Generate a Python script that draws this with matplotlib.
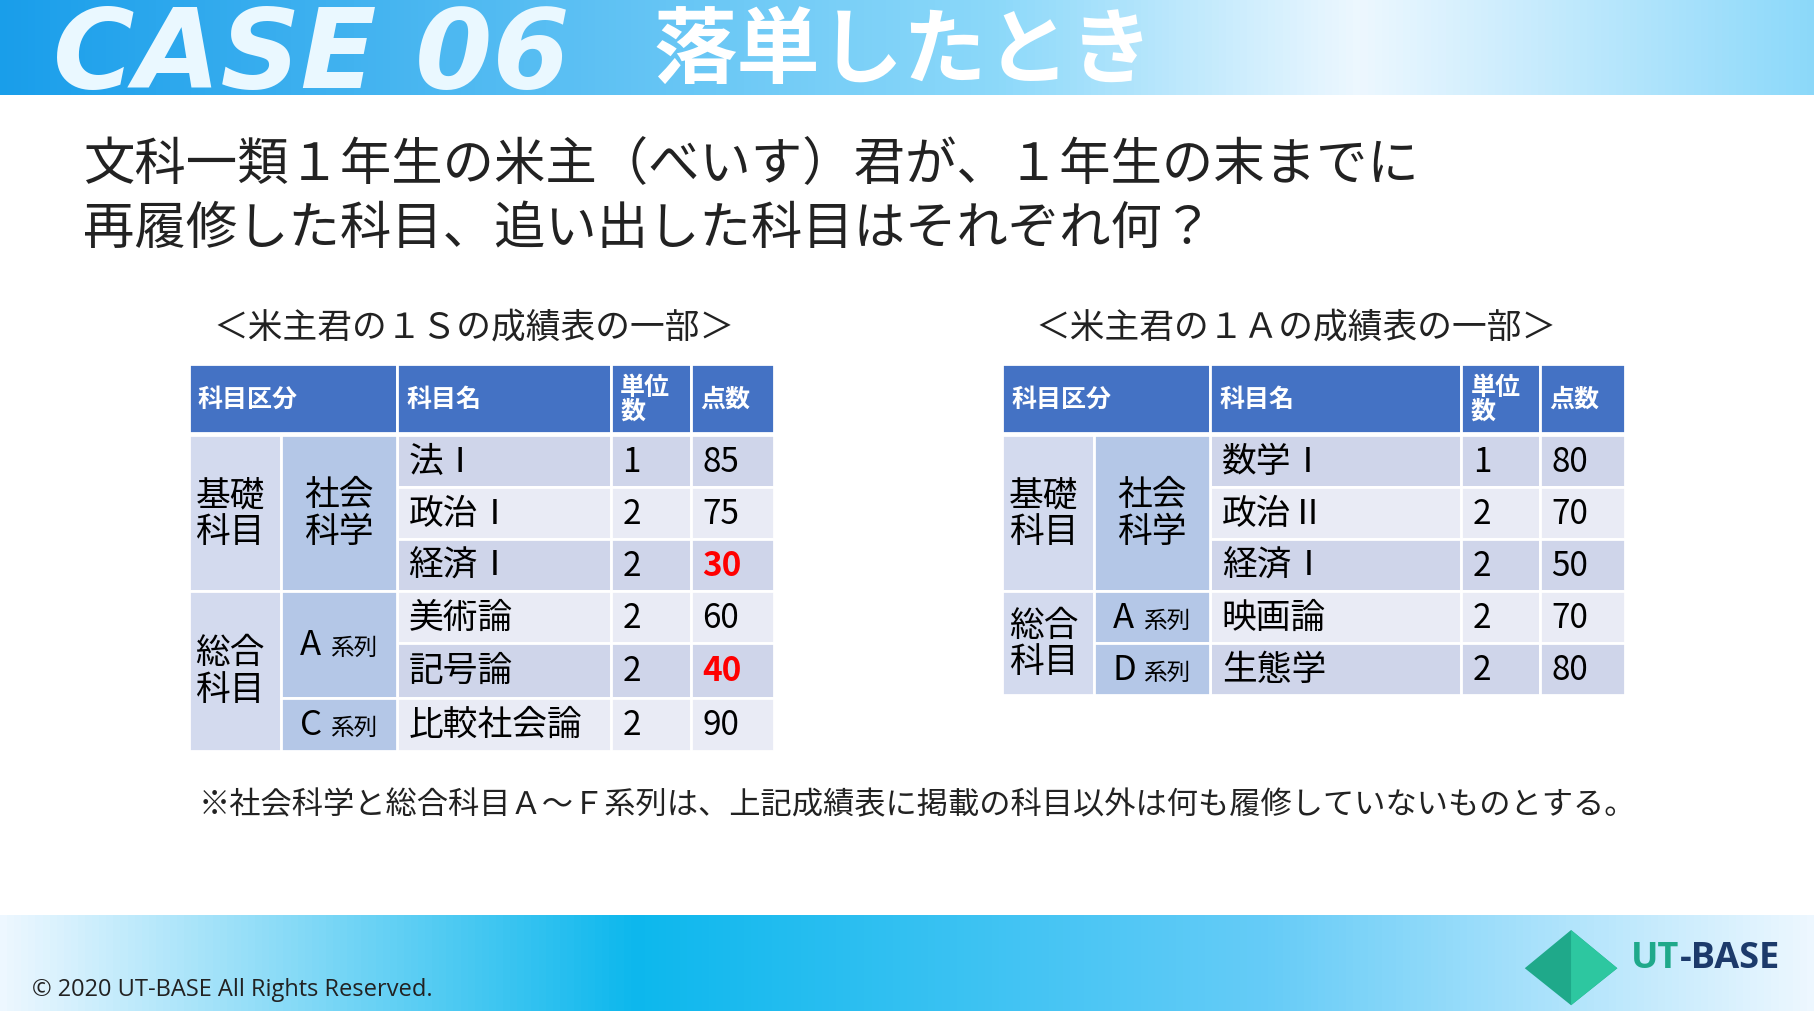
import numpy as np
import matplotlib
matplotlib.use('Agg')
import matplotlib.pyplot as plt
from matplotlib.patches import Rectangle, Polygon

plt.rcParams['font.family'] = ['Noto Sans CJK JP', 'DejaVu Sans']

W, H = 1568, 875

# ---- data ----
left_title = '＜米主君の１Ｓの成績表の一部＞'
right_title = '＜米主君の１Ａの成績表の一部＞'
headers = ['科目区分', '科目名', '単位\n数', '点数']

left_subjects = ['法Ⅰ', '政治Ⅰ', '経済Ⅰ', '美術論', '記号論', '比較社会論']
left_credits = [1, 2, 2, 2, 2, 2]
left_scores = [85, 75, 30, 60, 40, 90]
left_fail = [False, False, True, False, True, False]
left_groups = [('基礎\n科目', 0, 3), ('総合\n科目', 3, 6)]
left_sub = [('社会\n科学', 0, 3), ('A 系列', 3, 5), ('C 系列', 5, 6)]

right_subjects = ['数学Ⅰ', '政治Ⅱ', '経済Ⅰ', '映画論', '生態学']
right_credits = [1, 2, 2, 2, 2]
right_scores = [80, 70, 50, 70, 80]
right_groups = [('基礎\n科目', 0, 3), ('総合\n科目', 3, 5)]
right_sub = [('社会\n科学', 0, 3), ('A 系列', 3, 4), ('D 系列', 4, 5)]

fig = plt.figure(figsize=(18.14, 10.12), dpi=100)
ax = fig.add_axes([0, 0, 1, 1])
ax.set_xlim(0, W)
ax.set_ylim(H, 0)
ax.axis('off')

# header / footer band gradients
grad = np.linspace(0, 1, 256)
c0 = np.array([0.10, 0.62, 0.92]); c1 = np.array([0.55, 0.85, 0.98]); c2 = np.array([0.93, 0.97, 1.0])
def band(t, pts):
    out = np.zeros((len(t), 3))
    for i in range(3):
        out[:, i] = np.interp(t, [p[0] for p in pts], [p[1][i] for p in pts])
    return out[None, :, :]
ax.imshow(band(grad, [(0, c0), (0.55, c1), (0.75, c2), (1, c1)]), extent=[0, W, 83, 0], aspect='auto', zorder=0)
ax.imshow(band(grad, [(0, c2), (0.35, np.array([0.05, 0.72, 0.93])), (0.7, np.array([0.4, 0.8, 0.97])), (1, c2)]),
          extent=[0, W, H, 792], aspect='auto', zorder=0)
ax.set_xlim(0, W); ax.set_ylim(H, 0)

ax.text(46, 50, 'CASE 06', color='#EAF8FF', fontsize=80, fontweight='bold', fontstyle='italic',
        family='Liberation Sans Narrow', va='center', ha='left')
ax.text(565, 45, '落単したとき', color='white', fontsize=60, fontweight='bold', va='center', ha='left')

ax.text(72, 143, '文科一類１年生の米主（べいす）君が、１年生の末までに', fontsize=37, va='center', color='#222222')
ax.text(72, 198, '再履修した科目、追い出した科目はそれぞれ何？', fontsize=37, va='center', color='#222222')

ax.text(410, 284, left_title, fontsize=25, ha='center', va='center', color='#222222')
ax.text(1120, 284, right_title, fontsize=25, ha='center', va='center', color='#222222')

HEAD = '#4472C4'; ROW_A = '#CFD5EA'; ROW_B = '#E9EBF5'; G1 = '#D3DAEE'; G2 = '#B4C7E7'


def cell(x0, x1, y0, y1, color):
    ax.add_patch(Rectangle((x0, y0), x1 - x0, y1 - y0, facecolor=color, edgecolor='white', lw=2, zorder=1))


def draw_table(xs, row_edges, subjects, credits, scores, fails, groups, subs):
    y_h0, y_h1 = 316, 375
    spans = [(xs[0], xs[2]), (xs[2], xs[3]), (xs[3], xs[4]), (xs[4], xs[5])]
    for (a, b), h in zip(spans, headers):
        cell(a, b, y_h0, y_h1, HEAD)
        ax.text(a + 8, (y_h0 + y_h1) / 2, h, color='white', fontsize=18, fontweight='bold',
                va='center', ha='left', linespacing=1.0, zorder=3)
    for i, (s, c, p) in enumerate(zip(subjects, credits, scores)):
        y0, y1 = row_edges[i], row_edges[i + 1]
        col = ROW_A if i % 2 == 0 else ROW_B
        for a, b in [(xs[2], xs[3]), (xs[3], xs[4]), (xs[4], xs[5])]:
            cell(a, b, y0, y1, col)
        ym = (y0 + y1) / 2
        ax.text(xs[2] + 10, ym, s, fontsize=25, va='center', zorder=3)
        ax.text(xs[3] + 10, ym, str(c), fontsize=24, va='center', zorder=3)
        bad = fails[i]
        ax.text(xs[4] + 10, ym, str(p), fontsize=24, va='center', zorder=3,
                color='#FF0000' if bad else 'black', fontweight='bold' if bad else 'normal')
    for lbl, a, b in groups:
        cell(xs[0], xs[1], row_edges[a], row_edges[b], G1)
        ax.text(xs[0] + 6, (row_edges[a] + row_edges[b]) / 2, lbl, fontsize=25, va='center', zorder=3,
                linespacing=1.05)
    for lbl, a, b in subs:
        cell(xs[1], xs[2], row_edges[a], row_edges[b], G2)
        ym = (row_edges[a] + row_edges[b]) / 2
        if '\n' in lbl:
            ax.text((xs[1] + xs[2]) / 2, ym, lbl, fontsize=25, va='center', ha='center', zorder=3,
                    linespacing=1.05)
        else:
            big, small = lbl.split(' ')
            ax.text(xs[1] + 16, ym, big, fontsize=25, va='center', zorder=3)
            ax.text(xs[1] + 42, ym + 3, small, fontsize=17, va='center', zorder=3)


draw_table([163, 243, 343, 528, 597, 669], [377, 422, 467, 512, 557, 604, 650],
           left_subjects, left_credits, left_scores, left_fail, left_groups, left_sub)
draw_table([866, 946, 1046, 1263, 1331, 1405], [377, 422, 467, 512, 557, 602],
           right_subjects, right_credits, right_scores, [False] * 5, right_groups, right_sub)

ax.text(172, 696, '※社会科学と総合科目Ａ～Ｆ系列は、上記成績表に掲載の科目以外は何も履修していないものとする。',
        fontsize=22.5, va='center', color='#222222')

ax.text(28, 856, '© 2020 UT-BASE All Rights Reserved.', fontsize=17, va='center', color='#222222',
        family='Open Sans')

# logo
ax.add_patch(Polygon([[1358, 805], [1398, 838], [1358, 870], [1318, 838]], closed=True,
                     facecolor='#1FA98A', edgecolor='none', zorder=2))
ax.add_patch(Polygon([[1358, 805], [1398, 838], [1358, 870]], closed=True,
                     facecolor='#2DC7A0', edgecolor='none', zorder=2))
ax.text(1410, 829, 'UT', fontsize=26, fontweight='bold', color='#1FA98A', va='center', family='Open Sans')
ax.text(1452, 829, '-BASE', fontsize=26, fontweight='bold', color='#1C3A6B', va='center', family='Open Sans')

fig.savefig('out.png', dpi=100)
